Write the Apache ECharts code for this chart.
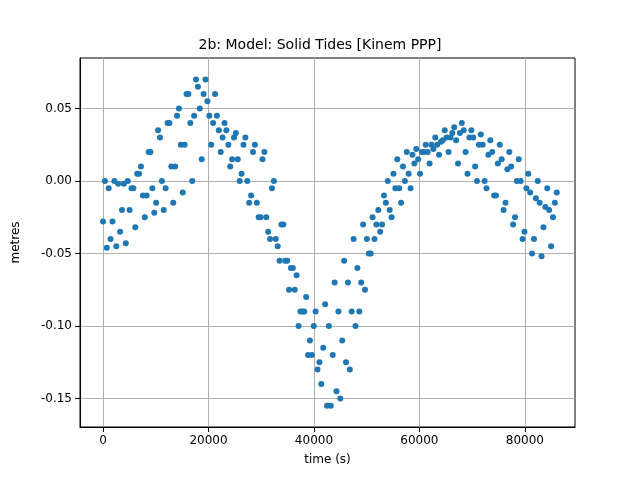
<!DOCTYPE html>
<html lang="en">
<head>
    <meta charset="UTF-8">
    <title>2b: Model: Solid Tides [Kinem PPP]</title>
    <script src="https://cdn.jsdelivr.net/npm/echarts/dist/echarts.min.js"></script>
</head>
<body style="margin:0">
    <div id="chart" style="width: 640px;height:480px;"></div>
    <script>
        // sampling step (s) and per-trace start offsets
        var step = 1800;
        var offsets = [0, 360, 720, 1080, 1440];

        // solid tide values (metres), one trace per list
        var traceA = [-0.028,-0.028,-0.02,-0.005,0.01,0.02,0.03,0.04,0.05,0.06,0.065,0.055,0.045,0.035,0.033,0.03,0.025,0.02,0.0,-0.03,-0.06,-0.09,-0.12,-0.14,-0.155,-0.15,-0.13,-0.09,-0.05,-0.02,0.0,0.015,0.02,0.022,0.025,0.03,0.035,0.037,0.035,0.03,0.025,0.02,0.015,0.01,0.0,-0.008,-0.015,-0.02];
        var traceB = [0.0,0.0,-0.002,-0.005,-0.01,-0.005,0.0,0.01,0.025,0.04,0.05,0.045,0.035,0.025,0.015,0.0,-0.015,-0.025,-0.04,-0.055,-0.075,-0.09,-0.1,-0.115,-0.12,-0.11,-0.09,-0.07,-0.05,-0.035,-0.02,-0.005,0.005,0.015,0.02,0.025,0.03,0.028,0.02,0.01,0.0,-0.01,-0.02,-0.03,-0.04,-0.05,-0.052,-0.045];
        var traceC = [-0.046,-0.045,-0.043,-0.032,-0.025,-0.022,-0.02,-0.015,-0.008,0.0,0.015,0.025,0.02,0.01,0.0,-0.015,-0.025,-0.035,-0.045,-0.055,-0.065,-0.08,-0.09,-0.085,-0.07,-0.055,-0.04,-0.03,-0.025,-0.03,-0.025,-0.015,-0.005,0.005,0.012,0.018,0.02,0.012,0.005,0.0,-0.005,-0.01,-0.015,-0.025,-0.035,-0.04,-0.032,-0.025];
        var traceD = [-0.005,-0.002,0.0,0.005,-0.01,-0.015,-0.005,0.01,0.025,0.045,0.06,0.04,0.03,0.015,0.005,-0.01,-0.025,-0.04,-0.055,-0.075,-0.1,-0.12,-0.13,-0.155,-0.145,-0.125,-0.1,-0.075,-0.04,-0.01,0.005,0.01,0.018,0.02,0.025,0.027,0.03,0.033,0.03,0.025,0.018,0.012,0.008,0.0,-0.005,-0.012,-0.018,-0.015];
        var traceE = [-0.04,-0.035,-0.02,0.005,0.02,0.035,0.04,0.045,0.06,0.07,0.07,0.06,0.04,0.03,0.025,0.02,0.015,-0.005,-0.03,-0.06,-0.09,-0.11,-0.125,-0.1,-0.09,-0.07,-0.06,-0.04,-0.03,-0.015,-0.005,0.0,0.012,0.02,0.022,0.028,0.033,0.04,0.035,0.032,0.028,0.025,0.02,0.015,0.005,0.0,-0.005,-0.008];
        var traces = [traceA, traceB, traceC, traceD, traceE];

        // tick labels
        var xTicks = [0, 20000, 40000, 60000, 80000];
        var yTicks = [-0.15, -0.10, -0.05, 0.00, 0.05];

        var points = [];
        traces.forEach(function (tr, k) {
            tr.forEach(function (v, i) {
                points.push([offsets[k] + i * step, v]);
            });
        });

        var chart = echarts.init(document.getElementById('chart'));
        var axisLine = { show: true, onZero: false, lineStyle: { color: '#000' } };
        chart.setOption({
            animation: false,
            title: {
                text: '2b: Model: Solid Tides [Kinem PPP]',
                left: 'center', top: 33,
                textStyle: { fontFamily: 'DejaVu Sans', fontSize: 14, fontWeight: 'normal', color: '#000' }
            },
            grid: { left: 80, right: 65, top: 58, bottom: 53, show: true, borderColor: '#000', borderWidth: 1 },
            xAxis: {
                type: 'value', min: -4360, max: 89500,
                name: 'time (s)', nameLocation: 'middle', nameGap: 27,
                nameTextStyle: { fontFamily: 'DejaVu Sans', fontSize: 12, color: '#000' },
                axisLine: axisLine,
                axisTick: { show: true, customValues: xTicks, lineStyle: { color: '#000' } },
                axisLabel: {
                    customValues: xTicks, fontFamily: 'DejaVu Sans', fontSize: 12, color: '#000',
                    formatter: function (v) { return String(v); }
                },
                splitLine: { show: true, lineStyle: { color: '#b0b0b0' } }
            },
            yAxis: {
                type: 'value', min: -0.1697, max: 0.0848,
                name: 'metres', nameLocation: 'middle', nameGap: 58,
                nameTextStyle: { fontFamily: 'DejaVu Sans', fontSize: 12, color: '#000' },
                axisLine: axisLine,
                axisTick: { show: true, customValues: yTicks, lineStyle: { color: '#000' } },
                axisLabel: {
                    customValues: yTicks, fontFamily: 'DejaVu Sans', fontSize: 12, color: '#000',
                    formatter: function (v) { return v.toFixed(2); }
                },
                splitLine: { show: true, lineStyle: { color: '#b0b0b0' } }
            },
            series: [{
                type: 'scatter',
                data: points,
                symbolSize: 6,
                itemStyle: { color: '#1f77b4', opacity: 1 }
            }]
        });
    </script>
</body>
</html>
